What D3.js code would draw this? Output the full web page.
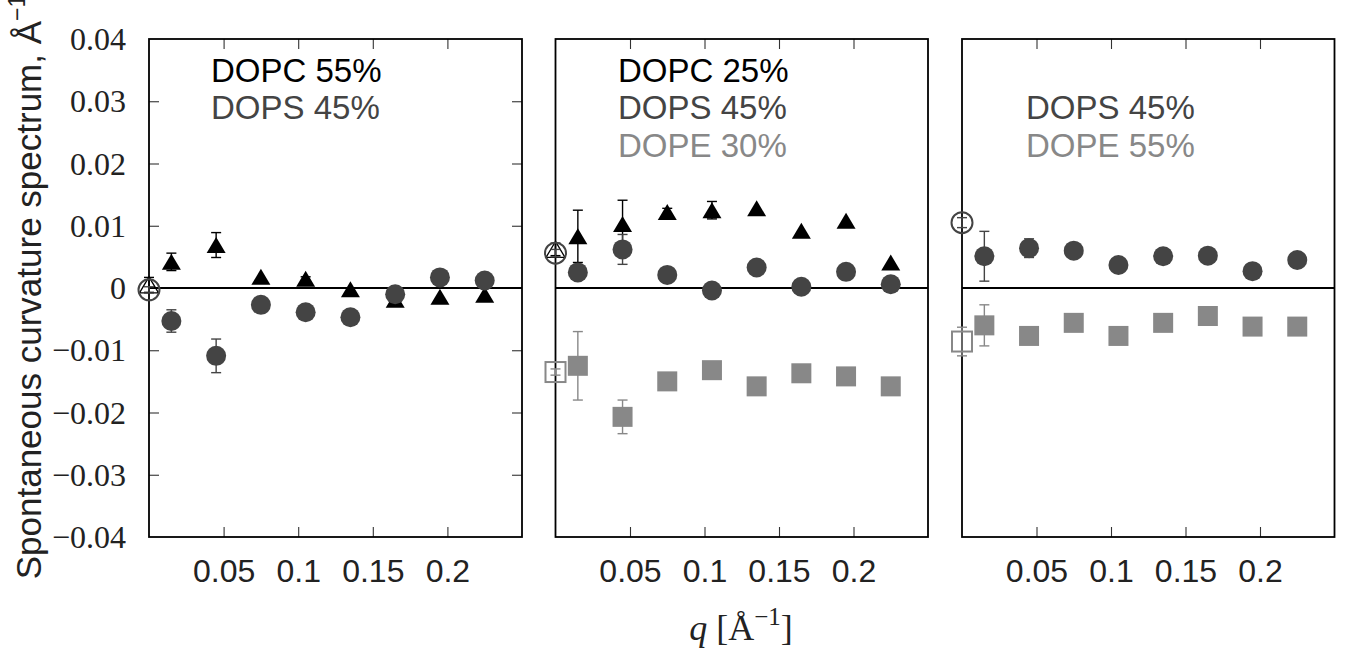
<!DOCTYPE html>
<html>
<head>
<meta charset="utf-8">
<script src="https://cdn.jsdelivr.net/npm/d3@7"></script>
<style>
  html, body { margin: 0; padding: 0; background: #fff; }
  svg { display: block; }
  .serif { font-family: 'Liberation Serif', 'DejaVu Serif', serif; }
  .sans { font-family: 'Liberation Sans', Arial, sans-serif; }
</style>
</head>
<body>
<svg id="chart" width="1352" height="649"></svg>
<script>
// ---------------- data ----------------
const qValues = [0.015, 0.045, 0.075, 0.105, 0.135, 0.165, 0.195, 0.225];
const xTickValues = [0.05, 0.1, 0.15, 0.2];
const yTickValues = [-0.04, -0.03, -0.02, -0.01, 0, 0.01, 0.02, 0.03, 0.04];

// Panel 1: DOPC 55% / DOPS 45%
const p1Triangle    = [0.0042, 0.0069, 0.0018, 0.0015, -0.0002, -0.0019, -0.0014, -0.0011];
const p1TriangleErr = [0.0014, 0.0020, 0, 0.0003, 0, 0, 0, 0];
const p1Circle      = [-0.0053, -0.0109, -0.0027, -0.0039, -0.0047, -0.0010, 0.0017, 0.0012];
const p1CircleErr   = [0.0018, 0.0027, 0, 0, 0, 0, 0, 0];
const p1OpenTriangle = [0.0005], p1OpenTriangleErr = [0.0012];
const p1OpenCircle   = [-0.0003], p1OpenCircleErr = [0.0005];

// Panel 2: DOPC 25% / DOPS 45% / DOPE 30%
const p2Triangle    = [0.0083, 0.0103, 0.0122, 0.0125, 0.0128, 0.0092, 0.0108, 0.0041];
const p2TriangleErr = [0.0042, 0.0038, 0.0006, 0.0014, 0, 0, 0, 0];
const p2Circle      = [0.0025, 0.0062, 0.0021, -0.0004, 0.0033, 0.0002, 0.0026, 0.0006];
const p2CircleErr   = [0.0012, 0.0024, 0, 0, 0, 0, 0, 0];
const p2Square      = [-0.0125, -0.0207, -0.0150, -0.0132, -0.0158, -0.0137, -0.0142, -0.0158];
const p2SquareErr   = [0.0055, 0.0027, 0, 0, 0, 0, 0, 0];
const p2OpenTriangle = [0.0062], p2OpenTriangleErr = [0.0010];
const p2OpenCircle   = [0.0056], p2OpenCircleErr = [0.0006];
const p2OpenSquare   = [-0.0135], p2OpenSquareErr = [0.0005];

// Panel 3: DOPS 45% / DOPE 55%
const p3Circle      = [0.0051, 0.0064, 0.0060, 0.0037, 0.0051, 0.0052, 0.0027, 0.0045];
const p3CircleErr   = [0.0040, 0.0015, 0, 0, 0, 0, 0, 0];
const p3Square      = [-0.0060, -0.0077, -0.0056, -0.0077, -0.0056, -0.0045, -0.0062, -0.0062];
const p3SquareErr   = [0.0033, 0, 0, 0, 0, 0, 0, 0];
const p3OpenCircle   = [0.0105], p3OpenCircleErr = [0.0008];
const p3OpenSquare   = [-0.0086], p3OpenSquareErr = [0.0023];

const p1Legend = ["DOPC 55%", "DOPS 45%", null];
const p2Legend = ["DOPC 25%", "DOPS 45%", "DOPE 30%"];
const p3Legend = [null, "DOPS 45%", "DOPE 55%"];

// ---------------- layout ----------------
const COL = { tri: "#000000", circ: "#444444", sq: "#888888" };
const legendColors = [COL.tri, COL.circ, COL.sq];
const plotTop = 39, plotBottom = 537;
const panels = [
  { x0: 149, x1: 522, yTicks: true, legend: p1Legend, legendX: 211,
    series: [
      { type: "tri", v: p1Triangle, e: p1TriangleErr },
      { type: "circ", v: p1Circle, e: p1CircleErr }],
    open: [
      { type: "tri", v: p1OpenTriangle, e: p1OpenTriangleErr },
      { type: "circ", v: p1OpenCircle, e: p1OpenCircleErr }] },
  { x0: 555.5, x1: 928, yTicks: false, legend: p2Legend, legendX: 618,
    series: [
      { type: "tri", v: p2Triangle, e: p2TriangleErr },
      { type: "circ", v: p2Circle, e: p2CircleErr },
      { type: "sq", v: p2Square, e: p2SquareErr }],
    open: [
      { type: "tri", v: p2OpenTriangle, e: p2OpenTriangleErr },
      { type: "circ", v: p2OpenCircle, e: p2OpenCircleErr },
      { type: "sq", v: p2OpenSquare, e: p2OpenSquareErr }] },
  { x0: 962, x1: 1334.5, yTicks: false, legend: p3Legend, legendX: 1026,
    series: [
      { type: "circ", v: p3Circle, e: p3CircleErr },
      { type: "sq", v: p3Square, e: p3SquareErr }],
    open: [
      { type: "circ", v: p3OpenCircle, e: p3OpenCircleErr },
      { type: "sq", v: p3OpenSquare, e: p3OpenSquareErr }] }
];

const svg = d3.select("#chart");
const y = d3.scaleLinear().domain([-0.04, 0.04]).range([plotBottom, plotTop]);
const fmtY = d => d === 0 ? "0" : d3.format(".2f")(d);

const TRI_W = 19, TRI_H = 16, SQ = 20, R = 10, CAP = 5;
const triPath = `M0,${-TRI_H/2}L${TRI_W/2},${TRI_H/2}L${-TRI_W/2},${TRI_H/2}Z`;

function drawMarker(g, type, cx, cy, filled) {
  const color = COL[type];
  let m;
  if (type === "circ") {
    m = g.append("circle").attr("cx", cx).attr("cy", cy).attr("r", filled ? R : 10.5);
  } else if (type === "sq") {
    m = g.append("rect").attr("x", cx - SQ/2).attr("y", cy - SQ/2).attr("width", SQ).attr("height", SQ);
  } else {
    m = g.append("path").attr("d", triPath).attr("transform", `translate(${cx},${cy})`);
  }
  if (filled) m.attr("fill", color);
  else m.attr("fill", "none").attr("stroke", color).attr("stroke-width", type === "tri" ? 1.3 : 2);
}

function drawErr(g, type, cx, v, e) {
  if (!e) return;
  const color = COL[type];
  const yt = y(v + e), yb = y(v - e);
  const eg = g.append("g").attr("stroke", color).attr("stroke-width", 1.4);
  eg.append("line").attr("x1", cx).attr("x2", cx).attr("y1", yt).attr("y2", yb);
  eg.append("line").attr("x1", cx - CAP).attr("x2", cx + CAP).attr("y1", yt).attr("y2", yt);
  eg.append("line").attr("x1", cx - CAP).attr("x2", cx + CAP).attr("y1", yb).attr("y2", yb);
}

panels.forEach(p => {
  const x = d3.scaleLinear().domain([0, 0.25]).range([p.x0, p.x1]);
  const g = svg.append("g");

  const styleTicks = sel => {
    sel.attr("font-family", null).attr("font-size", null);
    sel.select(".domain").remove();
    sel.selectAll(".tick line").attr("stroke", "#333").attr("stroke-width", 1.1);
  };
  const gb = g.append("g").attr("transform", `translate(0,${plotBottom})`)
    .call(d3.axisBottom(x).tickValues(xTickValues).tickSizeInner(-10).tickSizeOuter(0)
      .tickFormat(d3.format("")));
  styleTicks(gb);
  gb.selectAll(".tick text").attr("y", 45).attr("dy", null).attr("class", "sans")
    .style("font-size", "32px").attr("fill", "#222");
  const gt = g.append("g").attr("transform", `translate(0,${plotTop})`)
    .call(d3.axisTop(x).tickValues(xTickValues).tickSizeInner(-10).tickSizeOuter(0).tickFormat(""));
  styleTicks(gt);

  if (p.yTicks) {
    const gl = g.append("g").attr("transform", `translate(${p.x0},0)`)
      .call(d3.axisLeft(y).tickValues(yTickValues).tickSizeInner(-10).tickSizeOuter(0)
        .tickPadding(23).tickFormat(fmtY));
    styleTicks(gl);
    gl.selectAll(".tick line").filter(d => Math.abs(d) > 0.035 || d === 0).remove();
    gl.selectAll(".tick text").attr("class", "serif")
      .style("font-size", "32px").attr("fill", "#222").attr("dy", "0.33em");
    const gr = g.append("g").attr("transform", `translate(${p.x1},0)`)
      .call(d3.axisRight(y).tickValues(yTickValues.filter(d => Math.abs(d) < 0.035 && d !== 0))
        .tickSizeInner(-10).tickSizeOuter(0).tickFormat(""));
    styleTicks(gr);
  }

  g.append("line").attr("x1", p.x0).attr("x2", p.x1).attr("y1", y(0)).attr("y2", y(0))
    .attr("stroke", "#000").attr("stroke-width", 2);

  p.legend.forEach((t, i) => {
    if (!t) return;
    g.append("text").attr("x", p.legendX).attr("y", 81.7 + i * 37.5)
      .attr("class", "sans").style("font-size", "33px")
      .attr("fill", legendColors[i]).text(t);
  });

  p.series.forEach(s => {
    s.v.forEach((v, i) => drawErr(g, s.type, x(qValues[i]), v, s.e[i]));
    s.v.forEach((v, i) => drawMarker(g, s.type, x(qValues[i]), y(v), true));
  });

  g.append("rect").attr("x", p.x0).attr("y", plotTop).attr("width", p.x1 - p.x0).attr("height", plotBottom - plotTop)
    .attr("fill", "none").attr("stroke", "#000").attr("stroke-width", 1.8);

  p.open.forEach(s => {
    s.v.forEach((v, i) => {
      drawErr(g, s.type, x(0), v, s.e[i]);
      drawMarker(g, s.type, x(0), y(v), false);
    });
  });
});

svg.append("text")
  .attr("transform", "translate(41,287) rotate(-90)")
  .attr("text-anchor", "middle")
  .attr("class", "sans").style("font-size", "35px").attr("fill", "#222")
  .call(t => {
    t.append("tspan").text("Spontaneous curvature spectrum, Å");
    t.append("tspan").attr("dy", -16).style("font-size", "23px").text("−1");
  });

svg.append("text")
  .attr("x", 741).attr("y", 640).attr("text-anchor", "middle")
  .attr("class", "serif").style("font-size", "36px").attr("fill", "#222")
  .call(t => {
    t.append("tspan").attr("font-style", "italic").text("q");
    t.append("tspan").text(" [Å");
    t.append("tspan").attr("dy", -15).style("font-size", "25px").text("−1");
    t.append("tspan").attr("dy", 15).text("]");
  });
</script>
</body>
</html>
